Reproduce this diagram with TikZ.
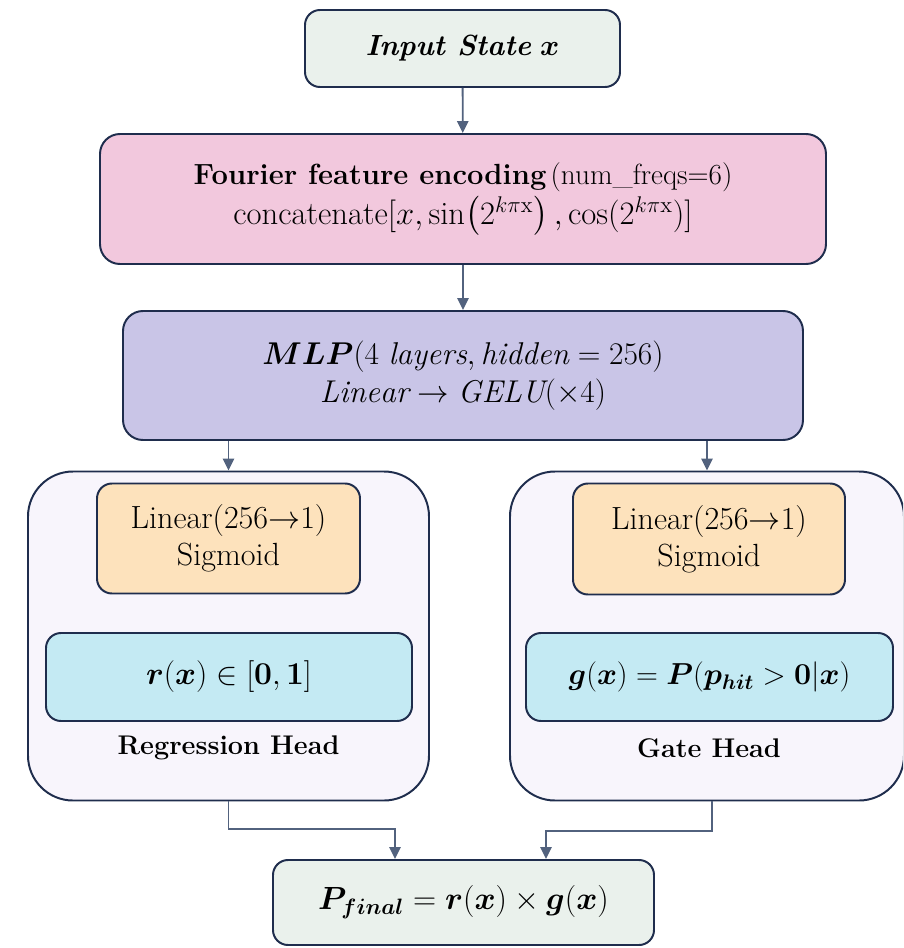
\documentclass[tikz,border=0pt]{standalone}
\usepackage{amsmath}
\usepackage{fontspec}
\usepackage{bm}
\usepackage{graphicx}
\usetikzlibrary{arrows.meta}

\definecolor{edgec}{HTML}{1F2D4D}
\definecolor{linkc}{HTML}{52627E}
\definecolor{inputc}{HTML}{EAF1EC}
\definecolor{fourierc}{HTML}{F2C8DD}
\definecolor{mlpc}{HTML}{C9C5E7}
\definecolor{headc}{HTML}{F8F5FC}
\definecolor{linc}{HTML}{FDE2BC}
\definecolor{outc}{HTML}{C4EAF3}

\def\pxu{0.025cm}

\tikzset{
  box/.style={draw=edgec, line width=1.4pt, align=center, inner sep=0pt,
              text=black, font=\fontsize{20.74}{26.5}\selectfont},
  link/.style={draw=linkc, line width=1.3pt, -{Triangle[length=8.5pt,width=8pt]}},
  caption/.style={font=\fontsize{19.2}{26}\selectfont\bfseries, text=black, inner sep=0pt},
}

\begin{document}
\begin{tikzpicture}[x=0.025cm, y=-0.025cm]
\useasboundingbox (0,0) rectangle (903,948);
\clip (0,0) rectangle (903,948);

% input and shared trunk
\node[box, fill=inputc, minimum width=315*\pxu, minimum height=77*\pxu,
      rounded corners=15*\pxu] (in) at (462.5,48.5)
  {\textbf{\textit{Input State}} $\bm{x}$};

\node[box, fill=fourierc, minimum width=726*\pxu, minimum height=130*\pxu,
      rounded corners=20*\pxu] (fe) at (463,199)
  {{\bfseries Fourier feature encoding}\kern3pt(num\_freqs=6)\\[2pt]
   \scalebox{1.12}{concatenate$[x, \sin\!\left(2^{k\pi\mathrm{x}}\right), \cos(2^{k\pi\mathrm{x}})]$}};

\node[box, fill=mlpc, minimum width=680*\pxu, minimum height=129*\pxu,
      rounded corners=20*\pxu] (mlp) at (463,375.5)
  {\scalebox{1.08}{$\bm{MLP}(4\ \mathit{layers}, \mathit{hidden} = 256)$}\\
   \scalebox{1.08}{$\mathit{Linear} \rightarrow \mathit{GELU}(\times 4)$}};

% the two heads
\node[box, fill=headc, minimum width=401*\pxu, minimum height=329*\pxu,
      rounded corners=45*\pxu] (lcont) at (228.5,636) {};
\node[box, fill=headc, minimum width=394*\pxu, minimum height=329*\pxu,
      rounded corners=45*\pxu] (rcont) at (707,636) {};

\node[box, fill=linc, minimum width=263*\pxu, minimum height=110*\pxu,
      rounded corners=15*\pxu] (llin) at (228.5,538.5)
  {\scalebox{1.1}{Linear(256$\rightarrow$1)}\\ \scalebox{1.1}{Sigmoid}};
\node[box, fill=linc, minimum width=272*\pxu, minimum height=111*\pxu,
      rounded corners=15*\pxu] (rlin) at (709,539)
  {\scalebox{1.1}{Linear(256$\rightarrow$1)}\\ \scalebox{1.1}{Sigmoid}};

\node[box, fill=outc, minimum width=366*\pxu, minimum height=88*\pxu,
      rounded corners=15*\pxu] (lout) at (229,677)
  {\scalebox{1.09}{$\bm{r}(\bm{x}) \in [\bm{0}, \bm{1}]$}};
\node[box, fill=outc, minimum width=367*\pxu, minimum height=88*\pxu,
      rounded corners=15*\pxu] (rout) at (709.5,677)
  {\scalebox{1.04}{$\bm{g}(\bm{x}) = \bm{P}(\bm{p}_{\bm{hit}} > \bm{0}|\bm{x})$}};

\node[caption] (lcap) at (228.5,748) {Regression Head};
\node[caption] (rcap) at (709,748) {Gate Head};

% combined output
\node[box, fill=inputc, minimum width=381*\pxu, minimum height=85*\pxu,
      rounded corners=15*\pxu] (final) at (463.5,902.5)
  {\scalebox{1.1}{$\bm{P_{final}} = \bm{r}(\bm{x}) \times \bm{g}(\bm{x})$}};

% connectors
\draw[link] (in) -- (fe);
\draw[link] (fe) -- (mlp);
\draw[link] (mlp.south -| lcont.north) -- (lcont.north);
\draw[link] (mlp.south -| rcont.north) -- (rcont.north);

\coordinate (jl) at (395,829);
\coordinate (jr) at (546,831);
\draw[link] (lcont.south) |- (jl) -- (jl |- final.north);
\draw[link] ([xshift=5*\pxu]rcont.south) |- (jr) -- (jr |- final.north);
\end{tikzpicture}
\end{document}
